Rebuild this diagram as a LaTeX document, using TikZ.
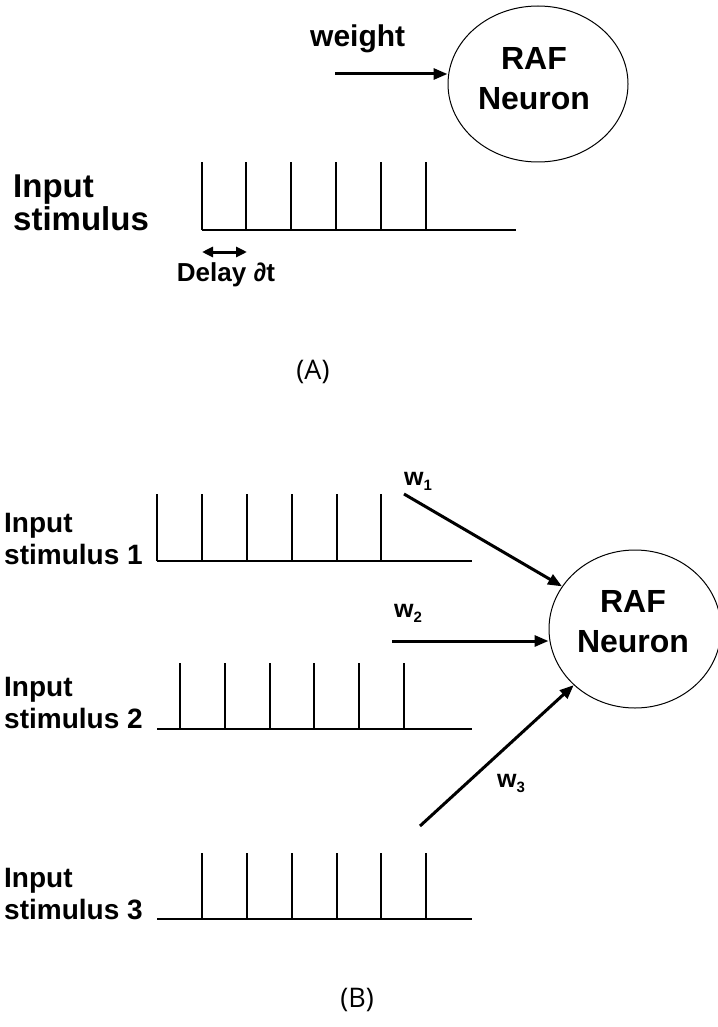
\documentclass[tikz,border=0pt]{standalone}
\usepackage{fontspec}
\setmainfont{Liberation Sans}
\newfontfamily\capfont{Open Sans}
\usetikzlibrary{arrows.meta,shapes.geometric}
\tikzset{
  spk/.style={line width=1.5pt},
  arr/.style={line width=3pt,-{Triangle[length=14pt,width=11pt]}},
  darr/.style={line width=3pt,{Triangle[length=11pt,width=10pt]}-{Triangle[length=11pt,width=10pt]}},
  neuron/.style={draw,ellipse,line width=1pt,inner sep=0pt},
  bigtxt/.style={font=\bfseries\fontsize{33}{36}\selectfont,inner sep=0pt},
  neutxt/.style={font=\bfseries\fontsize{32}{36}\selectfont,inner sep=0pt,anchor=base},
  lbltxt/.style={font=\bfseries\fontsize{28}{30}\selectfont,inner sep=0pt,anchor=base west},
  wtxt/.style={font=\bfseries\fontsize{25}{28}\selectfont,inner sep=0pt,anchor=base west},
  captxt/.style={font=\capfont\fontsize{27}{30}\selectfont,inner sep=0pt}
}
\newcommand{\wsub}[1]{w\raisebox{-5pt}{\fontsize{15}{15}\selectfont #1}}
\begin{document}
\begin{tikzpicture}[x=1pt,y=-1pt]
\useasboundingbox (0,0) rectangle (717,1027);
% ---------------- (A)
\node[neuron,minimum width=180pt,minimum height=156pt] (na) at (538,84) {};
\node[neutxt] (rafa) at (534,70) {RAF};
\node[neutxt] (neua) at (534,110) {Neuron};
\node[bigtxt,anchor=base west,font=\bfseries\fontsize{30}{32}\selectfont] (wt) at (310,47) {weight};
\coordinate (ws) at (335,74);
\draw[arr] (ws) -- (ws -| na.west);
\node[bigtxt,anchor=base west] (ina1) at (13,197) {Input};
\node[bigtxt,anchor=base west] (ina2) at (13,230) {stimulus};
\foreach \x in {202,246,291,336,381,426} \draw[spk] (\x,230) -- (\x,162);
\draw[spk] (202,230) -- (516,230);
\coordinate (d1) at (202,252);
\coordinate (d2) at (247,252);
\draw[darr] (d1) -- (d2);
\node[font=\bfseries\fontsize{26}{28}\selectfont,inner sep=0pt] (delay) at (226,275) {Delay ∂t};
\node[captxt] (capa) at (313,372) {(A)};
% ---------------- (B)
\node[neuron,minimum width=172pt,minimum height=158pt] (nb) at (635,629) {};
\node[neutxt] (rafb) at (633,612) {RAF};
\node[neutxt] (neub) at (633,652) {Neuron};
% trains
\foreach \x in {157,202,247,292,337,381} \draw[spk] (\x,561) -- (\x,494);
\draw[spk] (157,561) -- (472,561);
\foreach \x in {180,225,270,314,359,404} \draw[spk] (\x,729) -- (\x,663);
\draw[spk] (157,729) -- (472,729);
\foreach \x in {202,247,292,337,381,426} \draw[spk] (\x,919) -- (\x,853);
\draw[spk] (157,919) -- (472,919);
% labels
\node[lbltxt] (in1a) at (4,532) {Input};
\node[lbltxt] (in1b) at (4,564) {stimulus 1};
\node[lbltxt] (in2a) at (4,696) {Input};
\node[lbltxt] (in2b) at (4,728) {stimulus 2};
\node[lbltxt] (in3a) at (4,887) {Input};
\node[lbltxt] (in3b) at (4,919) {stimulus 3};
% weights
\node[wtxt] (w1) at (404,485) {\wsub{1}};
\node[wtxt] (w2) at (394,617) {\wsub{2}};
\node[wtxt] (w3) at (497,787) {\wsub{3}};
\coordinate (w1s) at (404,494);
\coordinate (w2s) at (392,641);
\coordinate (w3s) at (420,826);
\draw[arr] (w1s) -- (nb);
\draw[arr] (w2s) -- (w2s -| nb.west);
\draw[arr] (w3s) -- (nb);
\node[captxt] (capb) at (357,1000) {(B)};
\end{tikzpicture}
\end{document}
